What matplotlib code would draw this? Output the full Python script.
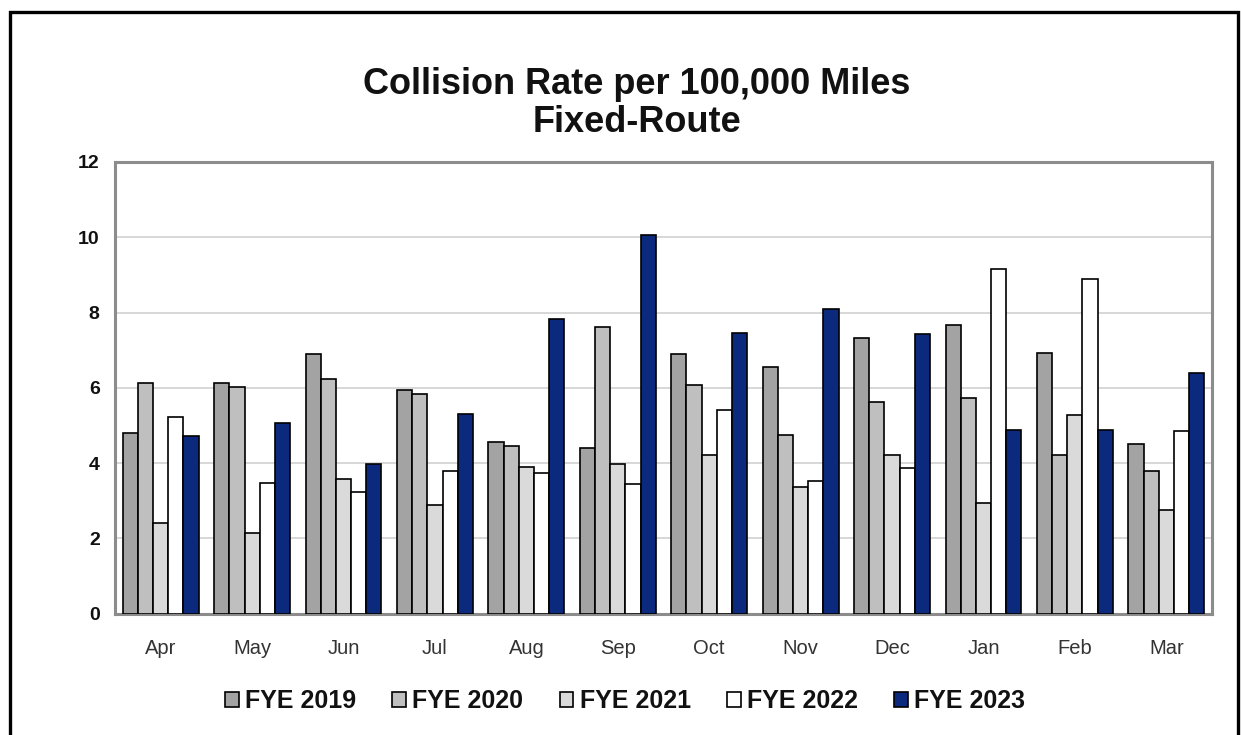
import matplotlib
matplotlib.use("Agg")
import matplotlib.pyplot as plt
import numpy as np
from matplotlib.patches import Rectangle

months = ["Apr", "May", "Jun", "Jul", "Aug", "Sep", "Oct", "Nov", "Dec", "Jan", "Feb", "Mar"]
series_names = ["FYE 2019", "FYE 2020", "FYE 2021", "FYE 2022", "FYE 2023"]
fye2019 = [4.80, 6.13, 6.90, 5.93, 4.55, 4.40, 6.90, 6.55, 7.32, 7.68, 6.92, 4.50]
fye2020 = [6.13, 6.03, 6.23, 5.83, 4.44, 7.61, 6.08, 4.75, 5.62, 5.73, 4.20, 3.78]
fye2021 = [2.41, 2.13, 3.57, 2.88, 3.89, 3.98, 4.20, 3.36, 4.20, 2.95, 5.27, 2.75]
fye2022 = [5.22, 3.48, 3.23, 3.78, 3.73, 3.43, 5.42, 3.52, 3.87, 9.16, 8.89, 4.85]
fye2023 = [4.71, 5.06, 3.98, 5.31, 7.83, 10.07, 7.46, 8.10, 7.43, 4.87, 4.87, 6.40]
yticks = [0, 2, 4, 6, 8, 10, 12]

series = [fye2019, fye2020, fye2021, fye2022, fye2023]
colors = ["#a3a3a3", "#bfbfbf", "#dadada", "#ffffff", "#0b2a7d"]

plt.rcParams['font.family'] = ['Liberation Sans', 'DejaVu Sans']

W, H = 1241, 735
fig = plt.figure(figsize=(W / 100, H / 100), dpi=100)
fig.patch.set_facecolor("white")

ax = fig.add_axes([115 / W, 1 - 613.5 / H, (1212 - 115) / W, (613.5 - 162) / H])

x = np.arange(len(months))
bw = 0.166
for i, (vals, c, name) in enumerate(zip(series, colors, series_names)):
    ax.bar(x + (i - 2) * bw, vals, width=bw, color=c, edgecolor="black",
           linewidth=1.2, label=name, zorder=3)

ax.set_xlim(-0.5, len(months) - 0.5)
ax.set_ylim(0, 12)
ax.set_yticks(yticks)
ax.set_yticklabels([str(t) for t in yticks], fontsize=14, fontweight="bold", color="#111111")
ax.set_xticks(x)
ax.set_xticklabels(months, fontsize=14.5, color="#333333")
ax.tick_params(axis="y", length=0, pad=11)
ax.tick_params(axis="x", length=0, pad=18)
ax.yaxis.grid(True, color="#d4d4d4", linewidth=1.3, zorder=0)
ax.set_axisbelow(True)
for s in ax.spines.values():
    s.set_color("#8c8c8c")
    s.set_linewidth(2.2)

fig.text(637 / W, 1 - 85 / H, "Collision Rate per 100,000 Miles", ha="center", va="center",
         fontsize=26, fontweight="bold", color="#111111")
fig.text(637 / W, 1 - 122 / H, "Fixed-Route", ha="center", va="center",
         fontsize=26, fontweight="bold", color="#111111")

leg = fig.legend(loc="center", bbox_to_anchor=(625 / W, 1 - 701 / H), ncol=5, frameon=False,
                 prop={"size": 18, "weight": "bold"}, handlelength=0.55, handleheight=0.55,
                 handletextpad=0.25, columnspacing=1.45, borderaxespad=0)
for t in leg.get_texts():
    t.set_color("#111111")

fig.add_artist(Rectangle((9.5 / W, -0.01), (1238 - 9.5) / W, 1.01 - 11.5 / H,
                         transform=fig.transFigure, fill=False, edgecolor="black", linewidth=2.4))

fig.savefig("out.png", dpi=100, facecolor="white")
